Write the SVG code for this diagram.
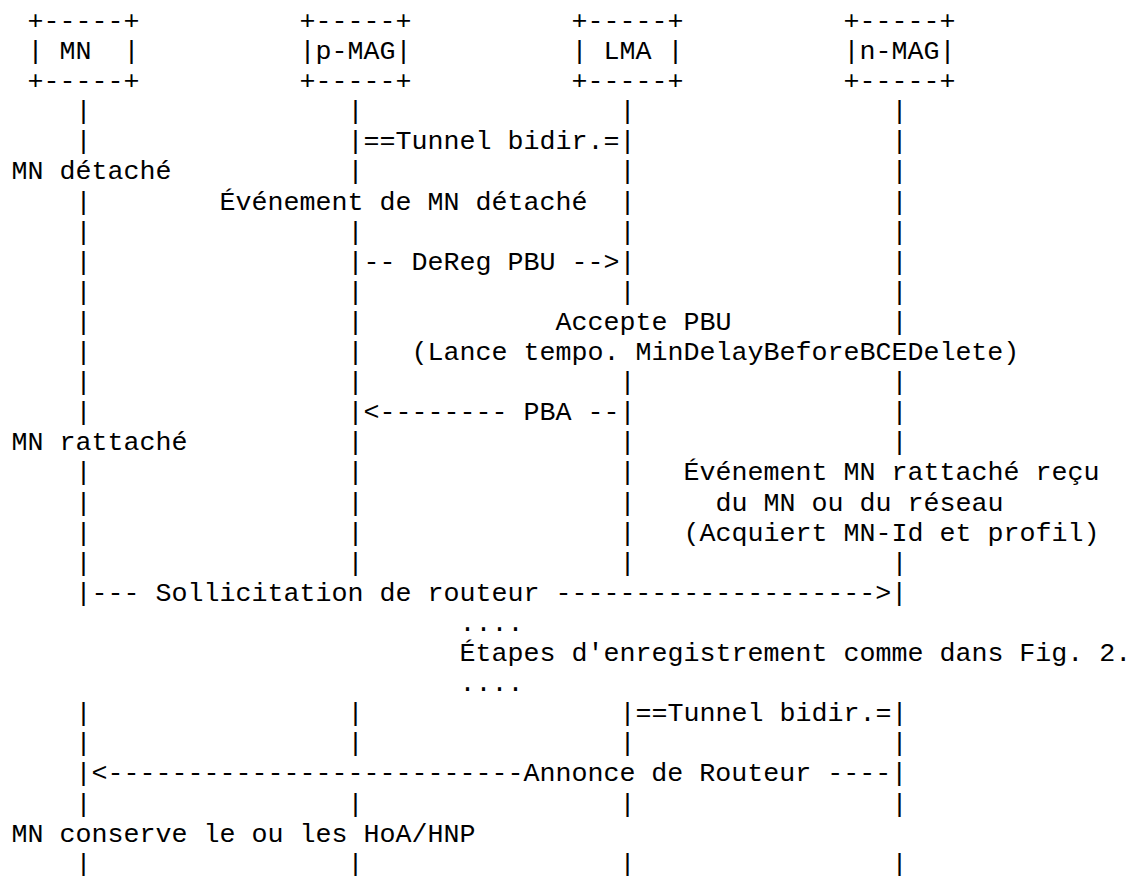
<svg xmlns="http://www.w3.org/2000/svg" width="1132" height="876" viewBox="0 0 1132 876" xml:space="preserve">
<style>
text { font-family: "Liberation Mono", "Courier New", monospace; font-size: 26.667px; fill: #000; white-space: pre; }
</style>
<rect width="1132" height="876" fill="#fff"/>
<g id="node-MN">
<text x="27.5" y="28.9">+-----+</text>
<text x="27.5" y="59">| MN  |</text>
<text x="27.5" y="89.1">+-----+</text>
</g>
<g id="node-pMAG">
<text x="299.5" y="28.9">+-----+</text>
<text x="299.5" y="59">|p-MAG|</text>
<text x="299.5" y="89.1">+-----+</text>
</g>
<g id="node-LMA">
<text x="571.5" y="28.9">+-----+</text>
<text x="571.5" y="59">| LMA |</text>
<text x="571.5" y="89.1">+-----+</text>
</g>
<g id="node-nMAG">
<text x="843.5" y="28.9">+-----+</text>
<text x="843.5" y="59">|n-MAG|</text>
<text x="843.5" y="89.1">+-----+</text>
</g>
<g id="lifeline-MN">
<text x="75.5" y="119.2">|</text>
<text x="75.5" y="149.3">|</text>
<text x="75.5" y="209.5">|</text>
<text x="75.5" y="239.6">|</text>
<text x="75.5" y="269.7">|</text>
<text x="75.5" y="299.8">|</text>
<text x="75.5" y="329.9">|</text>
<text x="75.5" y="360">|</text>
<text x="75.5" y="390.1">|</text>
<text x="75.5" y="420.2">|</text>
<text x="75.5" y="480.4">|</text>
<text x="75.5" y="510.5">|</text>
<text x="75.5" y="540.6">|</text>
<text x="75.5" y="570.7">|</text>
<text x="75.5" y="721.2">|</text>
<text x="75.5" y="751.3">|</text>
<text x="75.5" y="811.5">|</text>
<text x="75.5" y="871.7">|</text>
</g>
<g id="lifeline-pMAG">
<text x="347.5" y="119.2">|</text>
<text x="347.5" y="179.4">|</text>
<text x="347.5" y="239.6">|</text>
<text x="347.5" y="299.8">|</text>
<text x="347.5" y="329.9">|</text>
<text x="347.5" y="360">|</text>
<text x="347.5" y="390.1">|</text>
<text x="347.5" y="450.3">|</text>
<text x="347.5" y="480.4">|</text>
<text x="347.5" y="510.5">|</text>
<text x="347.5" y="540.6">|</text>
<text x="347.5" y="570.7">|</text>
<text x="347.5" y="721.2">|</text>
<text x="347.5" y="751.3">|</text>
<text x="347.5" y="811.5">|</text>
<text x="347.5" y="871.7">|</text>
</g>
<g id="lifeline-LMA">
<text x="619.5" y="119.2">|</text>
<text x="619.5" y="179.4">|</text>
<text x="619.5" y="209.5">|</text>
<text x="619.5" y="239.6">|</text>
<text x="619.5" y="299.8">|</text>
<text x="619.5" y="390.1">|</text>
<text x="619.5" y="450.3">|</text>
<text x="619.5" y="480.4">|</text>
<text x="619.5" y="510.5">|</text>
<text x="619.5" y="540.6">|</text>
<text x="619.5" y="570.7">|</text>
<text x="619.5" y="751.3">|</text>
<text x="619.5" y="811.5">|</text>
<text x="619.5" y="871.7">|</text>
</g>
<g id="lifeline-nMAG">
<text x="891.5" y="119.2">|</text>
<text x="891.5" y="149.3">|</text>
<text x="891.5" y="179.4">|</text>
<text x="891.5" y="209.5">|</text>
<text x="891.5" y="239.6">|</text>
<text x="891.5" y="269.7">|</text>
<text x="891.5" y="299.8">|</text>
<text x="891.5" y="329.9">|</text>
<text x="891.5" y="390.1">|</text>
<text x="891.5" y="420.2">|</text>
<text x="891.5" y="450.3">|</text>
<text x="891.5" y="570.7">|</text>
<text x="891.5" y="751.3">|</text>
<text x="891.5" y="811.5">|</text>
<text x="891.5" y="871.7">|</text>
</g>
<g id="connectors">
<text x="347.5" y="149.3">|==Tunnel bidir.=|</text>
<text x="347.5" y="269.7">|-- DeReg PBU --&gt;|</text>
<text x="347.5" y="420.2">|&lt;-------- PBA --|</text>
<text x="75.5" y="600.8">|--- Sollicitation de routeur --------------------&gt;|</text>
<text x="619.5" y="721.2">|==Tunnel bidir.=|</text>
<text x="75.5" y="781.4">|&lt;--------------------------Annonce de Routeur ----|</text>
</g>
<g id="notes">
<text x="11.5" y="179.4">MN détaché</text>
<text x="219.5" y="209.5">Événement de MN détaché</text>
<text x="555.5" y="329.9">Accepte PBU</text>
<text x="411.5" y="360">(Lance tempo. MinDelayBeforeBCEDelete)</text>
<text x="11.5" y="450.3">MN rattaché</text>
<text x="683.5" y="480.4">Événement MN rattaché reçu</text>
<text x="715.5" y="510.5">du MN ou du réseau</text>
<text x="683.5" y="540.6">(Acquiert MN-Id et profil)</text>
<text x="459.5" y="630.9">....</text>
<text x="459.5" y="661">Étapes d'enregistrement comme dans Fig. 2.</text>
<text x="459.5" y="691.1">....</text>
<text x="11.5" y="841.6">MN conserve le ou les HoA/HNP</text>
</g>
</svg>
